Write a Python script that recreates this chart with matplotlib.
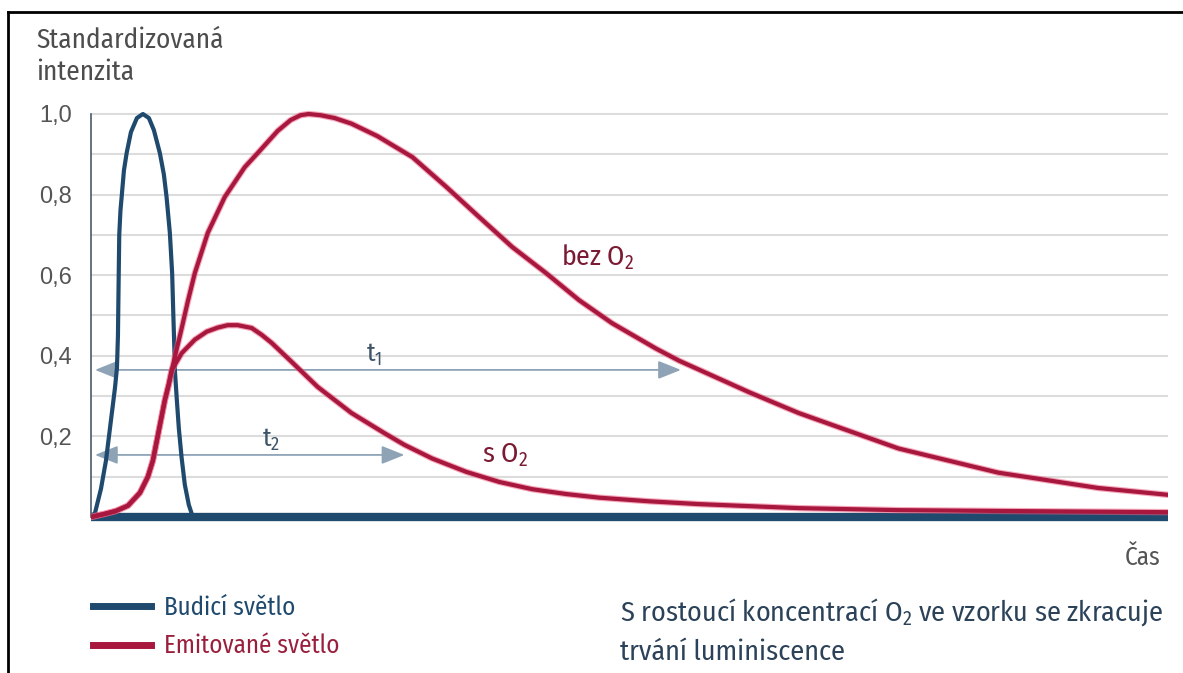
#!/usr/bin/env python3
"""Luminiscence: budicí a emitované světlo, s O2 a bez O2."""

import matplotlib
matplotlib.use("Agg")
from matplotlib import pyplot as plt
from matplotlib.lines import Line2D

# time in arbitrary units, intensity standardised to 1.0
budici_t = [0, 0.4, 1.0, 1.5, 2.0, 2.4, 2.6, 2.7, 2.75, 2.83, 2.95, 3.07, 3.3,
            3.57, 4.0, 4.6, 5.2, 5.8, 6.3, 6.9, 7.3, 7.57, 7.9, 8.13, 8.25,
            8.35, 8.4, 8.6, 8.8, 9.07, 9.4, 9.8, 10.2]
budici_i = [0, 0.01, 0.07, 0.14, 0.24, 0.32, 0.37, 0.45, 0.55, 0.70, 0.76,
            0.794, 0.86, 0.903, 0.955, 0.99, 1.0, 0.99, 0.96, 0.903, 0.85,
            0.794, 0.705, 0.605, 0.5, 0.42, 0.365, 0.29, 0.22, 0.149, 0.08,
            0.03, 0]

# shared rise of the emitted light
nabeh_t = [0, 1.4, 2.5, 3.7, 4.9, 5.7, 6.2, 6.6, 7.0, 7.4, 7.8, 8.1]
nabeh_i = [0, 0.008, 0.015, 0.028, 0.06, 0.10, 0.14, 0.19, 0.24, 0.29, 0.33,
           0.365]

bez_o2_t = nabeh_t + [8.6, 9.1, 9.7, 10.4, 11.7, 13.4, 15.4, 16.7, 18.7,
                      20.0, 21.0, 21.8, 23.0, 24.4, 26.1, 28.7, 32.2, 35.6,
                      38.9, 42.2, 45.6, 48.9, 52.2, 56.6, 58.9, 65.9, 70.9,
                      80.9, 90.9, 100.9, 107.9]
bez_o2_i = nabeh_i + [0.418, 0.47, 0.535, 0.605, 0.705, 0.794, 0.868, 0.903,
                      0.958, 0.985, 0.997, 1.0, 0.997, 0.99, 0.976, 0.945,
                      0.893, 0.819, 0.744, 0.670, 0.605, 0.538, 0.481, 0.418,
                      0.388, 0.31, 0.258, 0.17, 0.11, 0.072, 0.055]

s_o2_t = nabeh_t + [9.1, 10.4, 11.6, 12.7, 13.7, 14.7, 16.1, 17.1, 18.1,
                    20.1, 22.7, 26.1, 29.4, 31.4, 34.2, 37.6, 40.9, 44.2,
                    47.6, 50.9, 55.9, 60.9, 70.9, 80.9, 90.9, 107.9]
s_o2_i = nabeh_i + [0.407, 0.44, 0.46, 0.47, 0.476, 0.476, 0.469, 0.452,
                    0.432, 0.385, 0.323, 0.258, 0.208, 0.179, 0.145, 0.112,
                    0.087, 0.069, 0.057, 0.048, 0.039, 0.032, 0.022, 0.017,
                    0.015, 0.012]

# lifetimes shown as arrows: (start, end, level)
t1_arrow = (0.4, 59.1, 0.365)
t2_arrow = (0.4, 31.4, 0.154)

ytick_values = [0.2, 0.4, 0.6, 0.8, 1.0]
ytick_labels = ["0,2", "0,4", "0,6", "0,8", "1,0"]
grid_values = [0.1, 0.3, 0.5, 0.7, 0.9]
legend_labels = ["Budicí světlo", "Emitované světlo"]

BLUE = "#1f4a6e"
RED = "#a8173d"
GLOW = "#ee5f82"
ARROW = "#8ea3b6"
FONT = ["Fira Sans Condensed", "DejaVu Sans"]
TICK_FONT = ["Liberation Sans", "Arimo", "DejaVu Sans"]

W, H = 1183, 673


def fx(px):
    return px / W


def fy(py):
    return 1 - py / H


def main():
    plt.rcParams["font.family"] = FONT
    plt.rcParams["mathtext.fontset"] = "custom"
    plt.rcParams["mathtext.rm"] = FONT[0]
    plt.rcParams["mathtext.default"] = "regular"

    fig = plt.figure(figsize=(W / 100, H / 100), dpi=100)
    fig.patch.set_facecolor("white")

    # axes: x 0 at px 91, 107.9 at px 1168; y 0 at px 517, 1.0 at px 114
    ymin, ymax = -0.02, 1.05
    top = 517 - ymax * 403
    bottom = 517 - ymin * 403
    ax = fig.add_axes([fx(91), fy(bottom), fx(1168) - fx(91),
                       (bottom - top) / H])
    ax.set_xlim(0, 107.9)
    ax.set_ylim(ymin, ymax)

    ax.set_yticks(ytick_values, ytick_labels, fontfamily=TICK_FONT,
                  fontsize=17, color="#555555")
    ax.set_yticks(grid_values, minor=True)
    ax.set_xticks([])
    ax.tick_params(axis="y", which="both", length=0, pad=13.5)
    ax.grid(axis="y", which="both", color="#dcdcdc", lw=1.5)
    ax.set_axisbelow(True)
    for side in ("top", "right", "bottom"):
        ax.spines[side].set_visible(False)
    ax.spines["left"].set_bounds(0, 1)
    ax.spines["left"].set_color("#4a5a6a")
    ax.spines["left"].set_linewidth(1.2)

    # excitation pulse and zero line
    ax.axhline(0, color=BLUE, lw=6, solid_capstyle="butt", zorder=3)
    ax.plot(budici_t, budici_i, color=BLUE, lw=3, zorder=3,
            solid_capstyle="round")

    # emitted light with a soft pink edge
    for t, i in [(bez_o2_t, bez_o2_i), (s_o2_t, s_o2_i)]:
        ax.plot(t, i, color=GLOW, lw=4.6, alpha=0.55, zorder=4)
        ax.plot(t, i, color=RED, lw=3, zorder=5)

    for x0, x1, level in (t1_arrow, t2_arrow):
        ax.annotate(
            "", xy=(x1, level), xytext=(x0, level),
            arrowprops=dict(arrowstyle="<|-|>,head_length=0.7,head_width=0.28",
                            color=ARROW, lw=1.3, shrinkA=0, shrinkB=0,
                            mutation_scale=20),
            zorder=2,
        )

    ax.text(28.4, 0.385, "t$_1$", ha="center", va="baseline", fontsize=19,
            color="#3d5468")
    ax.text(18.0, 0.174, "t$_2$", ha="center", va="baseline", fontsize=19,
            color="#3d5468")
    ax.text(47.1, 0.625, "bez O$_2$", ha="left", va="baseline", fontsize=20,
            color="#7a1a33")
    ax.text(39.2, 0.134, "s O$_2$", ha="left", va="baseline", fontsize=20,
            color="#7a1a33")

    # labels around the axes
    fig.text(fx(36), fy(48), "Standardizovaná", fontsize=19.5,
             color="#4d4d4d", va="baseline")
    fig.text(fx(36), fy(80), "intenzita", fontsize=19.5, color="#4d4d4d",
             va="baseline")
    fig.text(fx(1161), fy(565), "Čas", fontsize=18, color="#555555",
             ha="right", va="baseline")
    fig.text(fx(620), fy(621),
             "S rostoucí koncentrací O$_2$ ve vzorku se zkracuje",
             fontsize=20.3, color="#2b4259", va="baseline")
    fig.text(fx(620), fy(660), "trvání luminiscence", fontsize=20.3,
             color="#2b4259", va="baseline")

    handles = [Line2D([], [], color=BLUE, lw=5),
               Line2D([], [], color=RED, lw=5)]
    fig.legend(handles, legend_labels, loc="upper left",
               bbox_to_anchor=(fx(93), fy(595)), frameon=False, fontsize=18,
               handlelength=2.3, handletextpad=0.55, labelspacing=0.55,
               borderpad=0, borderaxespad=0, labelcolor=[BLUE, "#9a1f3c"])

    # frame of the picture: top and left edge
    fig.add_artist(Line2D([fx(8), 1], [fy(12), fy(12)], color="black", lw=2,
                          transform=fig.transFigure))
    fig.add_artist(Line2D([fx(8), fx(8)], [fy(12), 0], color="black", lw=2,
                          transform=fig.transFigure))

    fig.savefig("out.png", dpi=100)


if __name__ == "__main__":
    main()
